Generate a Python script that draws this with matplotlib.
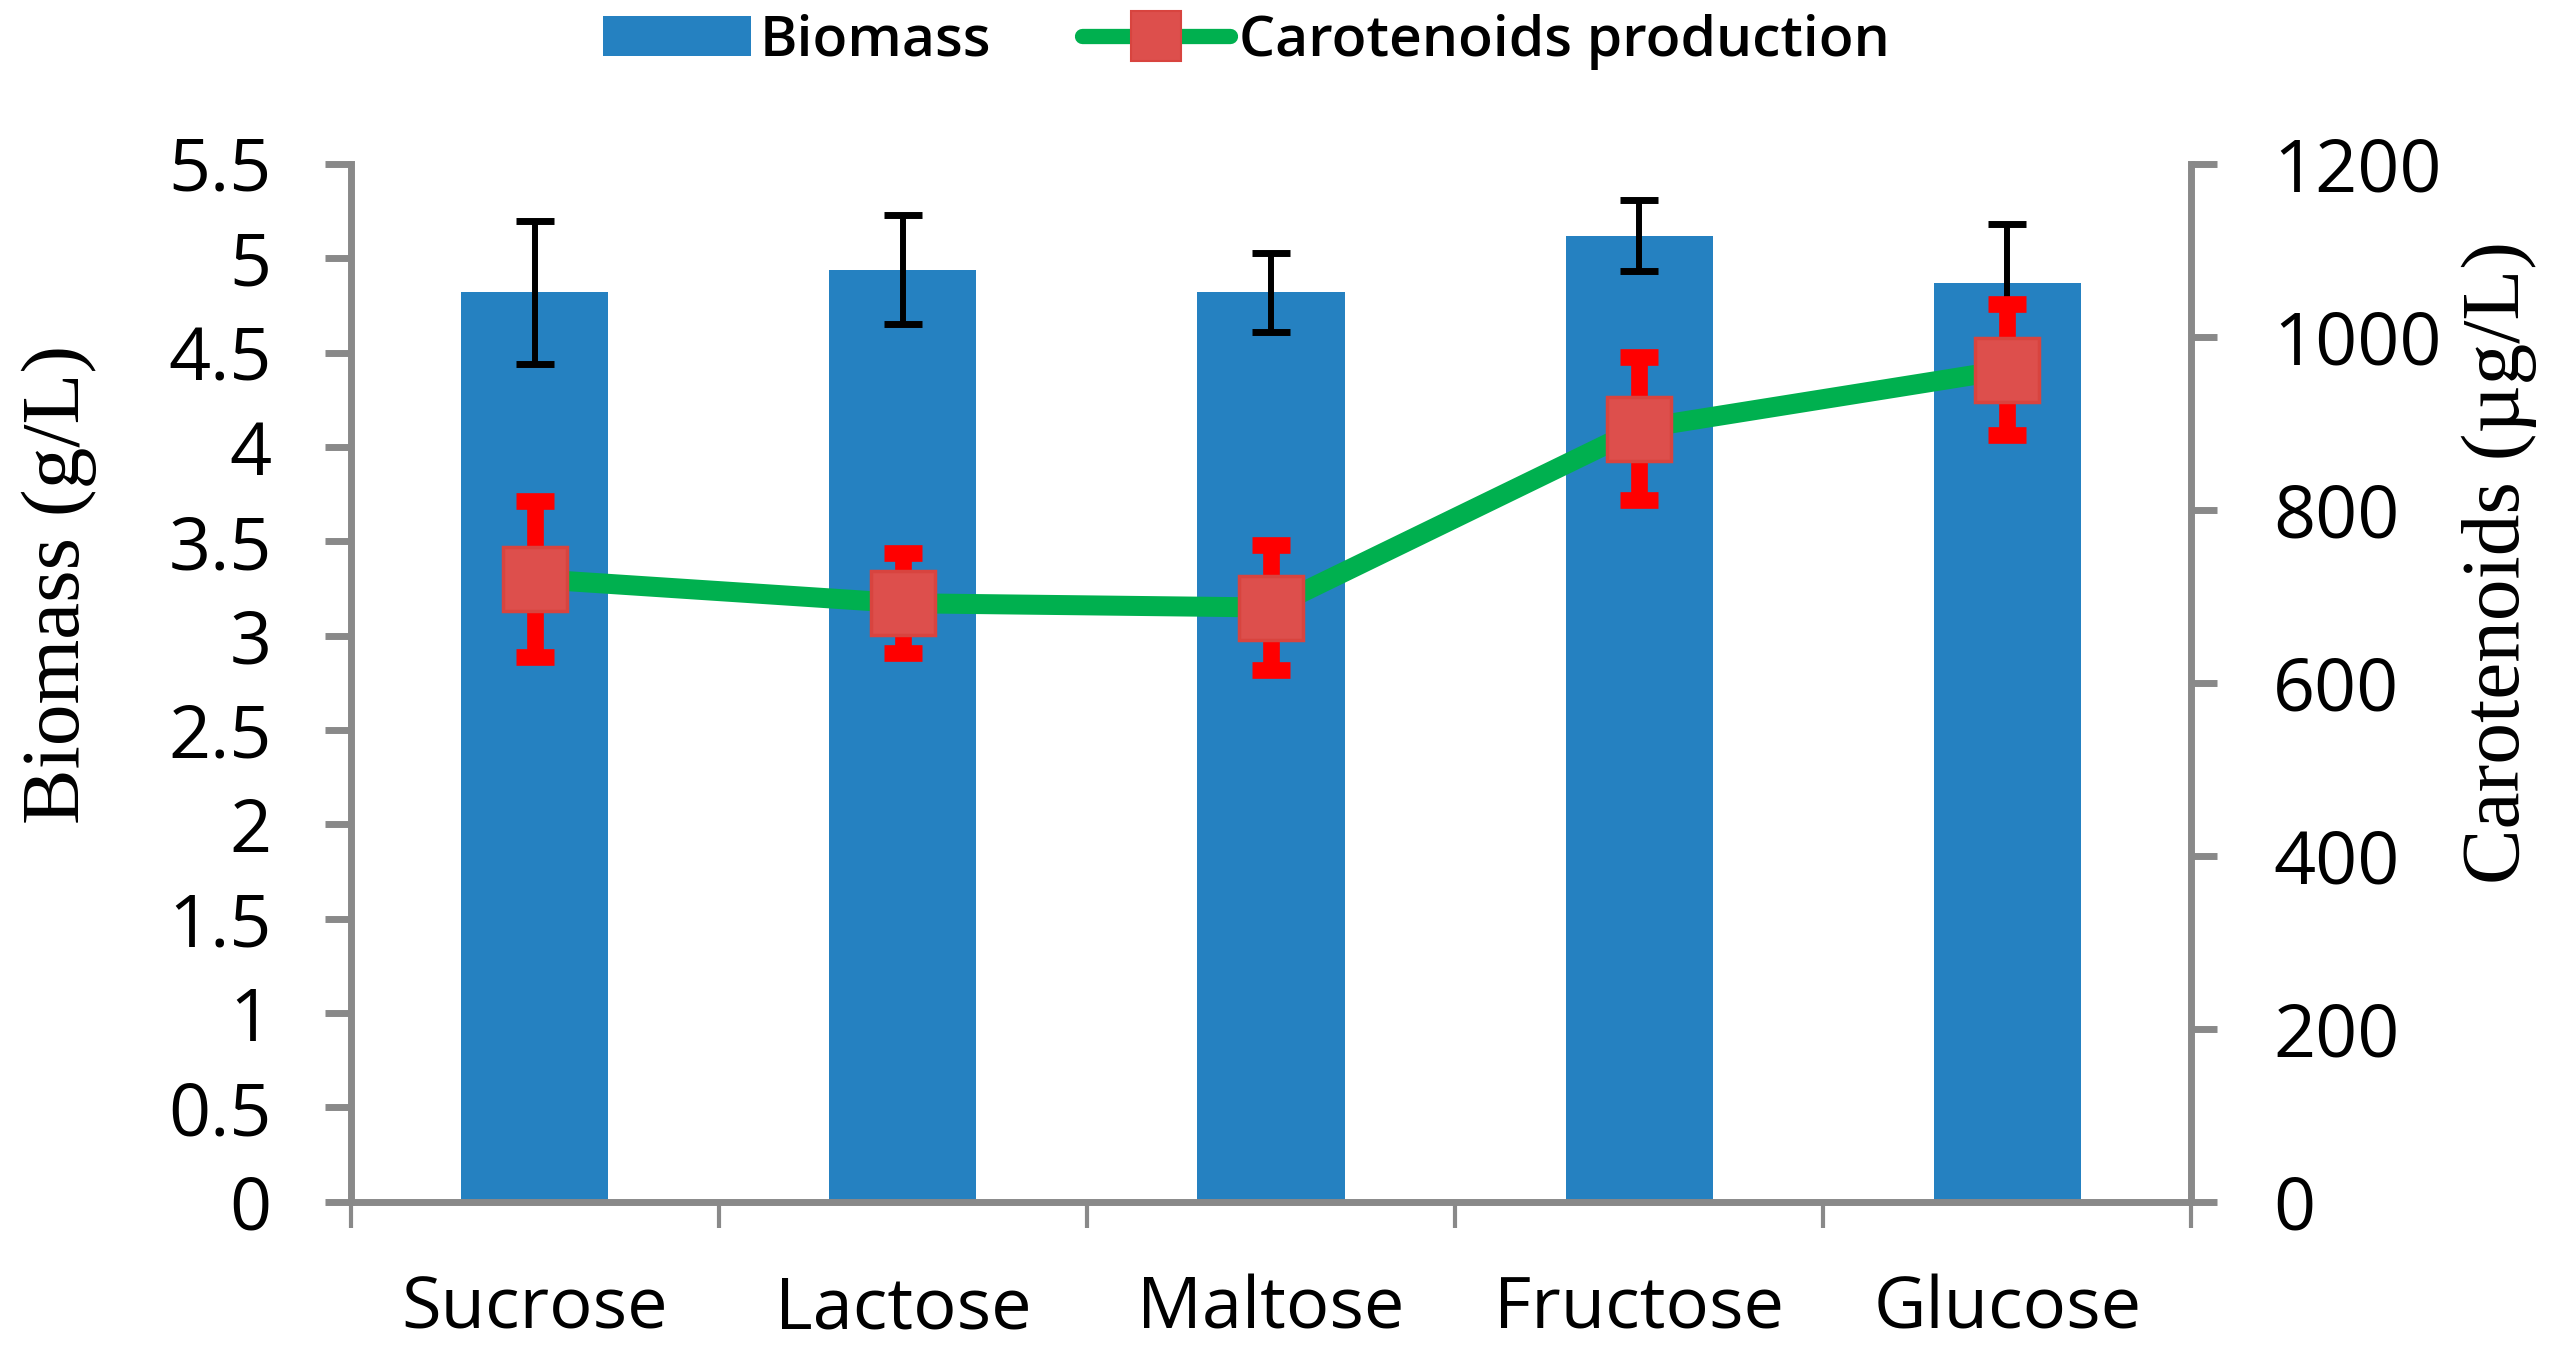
import numpy as np
import matplotlib
matplotlib.use("Agg")
import matplotlib.pyplot as plt
from matplotlib.lines import Line2D
from matplotlib.patches import Patch

categories = ['Sucrose', 'Lactose', 'Maltose', 'Fructose', 'Glucose']
biomass = [4.82, 4.94, 4.82, 5.12, 4.87]
biomass_err = [0.38, 0.29, 0.21, 0.19, 0.31]
carotenoids = [720, 692, 687, 894, 962]
carotenoids_err = [90, 58, 72, 83, 76]

bar_color = '#2581C1'
line_color = '#00B04F'
marker_color = '#DD4F4C'
axis_gray = '#898989'

plt.rcParams['font.family'] = ['Open Sans', 'DejaVu Sans']

fig = plt.figure(figsize=(25.53, 13.56), dpi=100)
ax = fig.add_axes([0.1373, 0.1139, 0.7211, 0.7652])
ax2 = ax.twinx()

x = np.arange(len(categories))

# biomass bars
ax.bar(x, biomass, width=0.4, color=bar_color, zorder=2)
ax.errorbar(x, biomass, yerr=biomass_err, fmt='none', ecolor='black',
            elinewidth=4.3, capsize=13.5, capthick=5, zorder=3)

# carotenoids line
ax2.errorbar(x, carotenoids, yerr=carotenoids_err, fmt='none', ecolor='#FF0000',
             elinewidth=12, capsize=14, capthick=12, zorder=2)
ax2.plot(x, carotenoids, color=line_color, linewidth=14.4, zorder=3,
         solid_capstyle='butt')
ax2.plot(x, carotenoids, linestyle='none', marker='s', markersize=46,
         markerfacecolor=marker_color, markeredgecolor='#D8443F',
         markeredgewidth=2.5, zorder=4)

ax.set_xlim(-0.5, 4.5)
ax.set_ylim(0, 5.5)
ax2.set_ylim(0, 1200)

ax.set_yticks(np.arange(0, 5.51, 0.5))
ax.set_yticklabels(['%g' % v for v in np.arange(0, 5.51, 0.5)])
ax2.set_yticks(np.arange(0, 1201, 200))

ax.set_xticks(np.arange(-0.5, 4.6, 1.0))
ax.set_xticklabels([])
ax.set_xticks(x, minor=True)
ax.set_xticklabels(categories, minor=True)

for a in (ax, ax2):
    a.spines['top'].set_visible(False)
    for s in a.spines.values():
        s.set_color(axis_gray)
        s.set_linewidth(5)

ax.spines['right'].set_visible(False)
ax2.spines['left'].set_visible(False)
ax2.spines['bottom'].set_visible(False)

ax.tick_params(axis='y', direction='out', length=18.7, width=5, color=axis_gray,
               labelsize=53, pad=38)
ax.tick_params(axis='x', which='major', direction='out', length=19, width=3,
               color=axis_gray)
ax.tick_params(axis='x', which='minor', length=0, labelsize=52, pad=52)
ax2.tick_params(axis='y', direction='out', length=18.7, width=5, color=axis_gray,
                labelsize=53, pad=40)

ax.set_ylabel('Biomass (g/L)', family='Liberation Serif', fontsize=60,
              va='center', ha='center')
ax.yaxis.set_label_coords(-0.158, 0.595)
ax2.set_ylabel('Carotenoids (µg/L)', family='Liberation Serif', fontsize=60,
               va='center', ha='center', rotation=90)
ax2.yaxis.set_label_coords(1.167, 0.616)

handles = [
    Patch(facecolor=bar_color, edgecolor='none', label='Biomass'),
    Line2D([0], [0], color=line_color, linewidth=11, marker='s', markersize=36,
           markerfacecolor=marker_color, markeredgecolor='#D8443F',
           markeredgewidth=1.5, solid_capstyle='round', label='Carotenoids production'),
]
fig.legend(handles=handles, loc='center', bbox_to_anchor=(1246 / 2553, 1 - 42 / 1356),
           ncol=2, frameon=False, prop={'family': 'Open Sans', 'size': 41,
                                        'weight': 'semibold'},
           handlelength=2.6, handletextpad=0.15, columnspacing=1.6, borderpad=0)

fig.savefig('out.png', dpi=100)
